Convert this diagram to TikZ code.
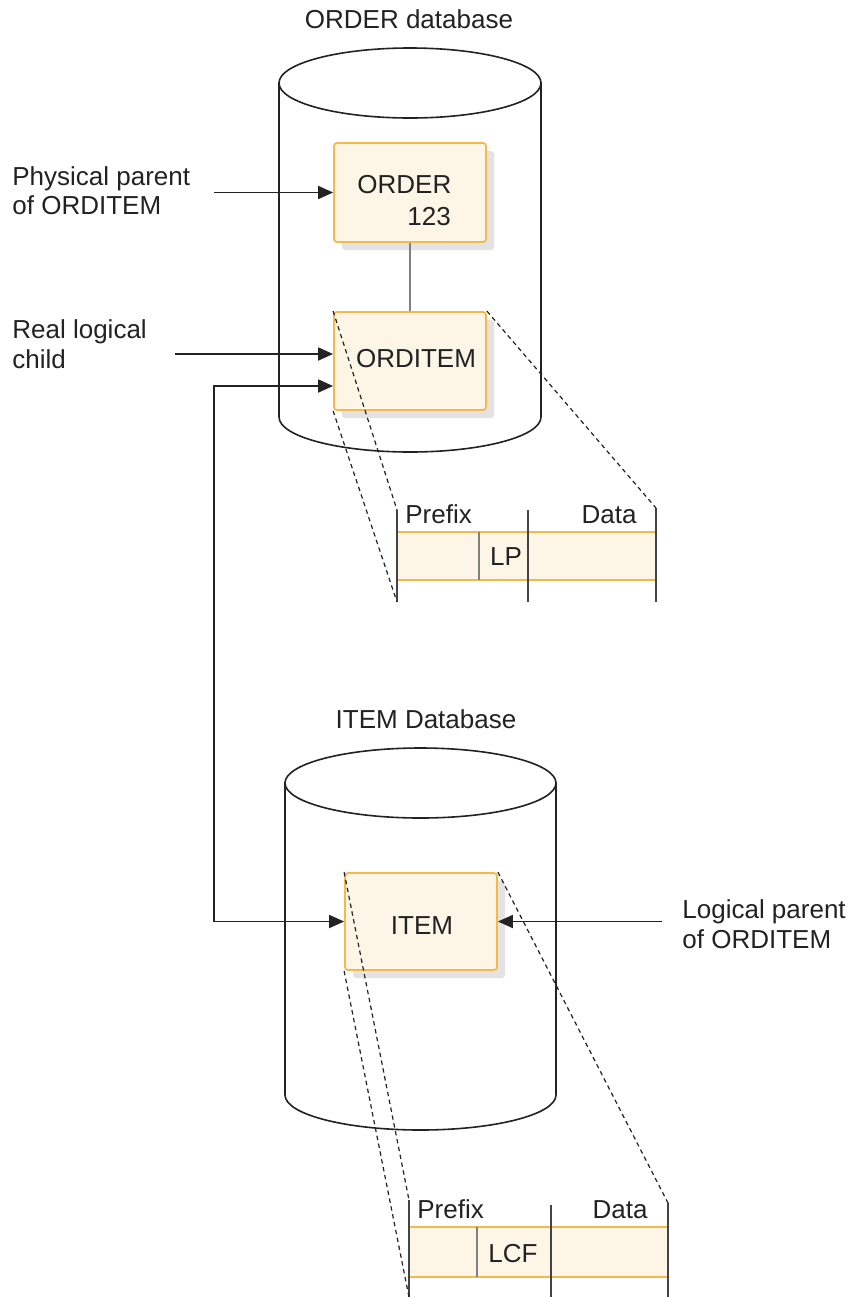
\documentclass[tikz,border=0pt]{standalone}
\usepackage{fontspec}
\setmainfont{Liberation Sans}
\usetikzlibrary{arrows.meta}
\definecolor{boxfill}{HTML}{FDF5E6}
\definecolor{boxline}{HTML}{F5B84A}
\definecolor{shadowc}{HTML}{E3E3E3}
\definecolor{ink}{HTML}{222222}
\begin{document}
\begin{tikzpicture}[x=0.5pt,y=-0.5pt,font=\fontsize{13}{15}\selectfont,
  cyl/.style={draw=ink,line width=0.8pt,fill=white},
  recbox/.style={draw=boxline,fill=boxfill,line width=0.9pt,rounded corners=1.5pt,minimum width=76pt,inner sep=0pt},
  shade/.style={fill=shadowc,rounded corners=1.5pt},
  conn/.style={draw=ink,line width=0.9pt,-{Triangle[length=7.5pt,width=6.5pt]}},
  link/.style={draw=gray,line width=1.4pt},
  zoomline/.style={draw=ink,line width=0.6pt,dash pattern=on 2.2pt off 1.8pt},
  field/.style={draw=ink!85,line width=0.8pt},
  subfield/.style={draw=gray,line width=1pt},
  band/.style={fill=boxfill},
  bandedge/.style={draw=boxline,line width=1pt},
  lbl/.style={inner sep=0pt,text=ink}]
\useasboundingbox (0,0) rectangle (853,1297);

% ---------- ORDER database cylinder ----------
\path[cyl] (279,83) -- (279,417) arc[start angle=180,end angle=0,x radius=131,y radius=35] -- (541,83) -- cycle;
\draw[cyl] (410,83) ellipse [x radius=131,y radius=35];
\node[lbl,anchor=base] (title1) at (409,28) {ORDER database};

% ---------- ITEM database cylinder ----------
\path[cyl] (285,783) -- (285,1095) arc[start angle=180,end angle=0,x radius=135.5,y radius=35] -- (556,783) -- cycle;
\draw[cyl] (420.5,783) ellipse [x radius=135.5,y radius=35];
\node[lbl,anchor=base] (title2) at (426,728) {ITEM Database};

% ---------- shadows ----------
\fill[shade] (342,151) rectangle (494,250);
\fill[shade] (342,320) rectangle (494,418);
\fill[shade] (353,881) rectangle (505,978);

% ---------- segment boxes ----------
\node[recbox,minimum height=49.5pt] (order) at (410,192.5) {};
\node[recbox,minimum height=49pt] (orditem) at (410,361) {};
\node[recbox,minimum height=48.5pt] (item) at (421,921.5) {};

\node[lbl,anchor=base west] (ordertxt) at (357,193) {ORDER};
\node[lbl,anchor=base west] (ordernum) at (407,225) {123};
\node[lbl,anchor=base] (orditemtxt) at (416,367) {ORDITEM};
\node[lbl,anchor=base] (itemtxt) at (422,934) {ITEM};

\draw[link] (order.south) -- (orditem.north);

% ---------- record 1 (ORDITEM) ----------
\coordinate (r1tl) at (397,510);
\coordinate (r1bl) at (397,602);
\coordinate (r1tr) at (656,508);
\coordinate (r1br) at (656,602);
\coordinate (r1dt) at (528,510);
\coordinate (r1db) at (528,602);
\fill[band] (397,532) rectangle (656,580);
\draw[bandedge] (397,532) -- (656,532);
\draw[bandedge] (397,580) -- (656,580);
\draw[subfield] (479,532) -- (479,580);
\draw[field] (r1tl) -- (r1bl);
\draw[field] (r1dt) -- (r1db);
\draw[field] (r1tr) -- (r1br);
\node[lbl,anchor=base west] (pf1) at (405,523) {Prefix};
\node[lbl,anchor=base east] (dt1) at (637,523) {Data};
\node[lbl,anchor=base] (lp) at (506,565) {LP};

\draw[zoomline] (orditem.north west) -- (r1tl);
\draw[zoomline] (orditem.south west) -- (r1bl);
\draw[zoomline] (orditem.north east) -- (r1tr);

% ---------- record 2 (ITEM) ----------
\coordinate (r2tl) at (409,1200);
\coordinate (r2bl) at (409,1297);
\coordinate (r2tr) at (668,1203);
\coordinate (r2br) at (668,1297);
\coordinate (r2dt) at (551,1205);
\coordinate (r2db) at (551,1297);
\fill[band] (409,1227) rectangle (668,1277);
\draw[bandedge] (409,1227) -- (668,1227);
\draw[bandedge] (409,1277) -- (668,1277);
\draw[subfield] (477,1227) -- (477,1277);
\draw[field] (r2tl) -- (r2bl);
\draw[field] (r2dt) -- (r2db);
\draw[field] (r2tr) -- (r2br);
\node[lbl,anchor=base west] (pf2) at (417,1218) {Prefix};
\node[lbl,anchor=base east] (dt2) at (648,1218) {Data};
\node[lbl,anchor=base] (lcf) at (513,1262) {LCF};

\draw[zoomline] (item.north west) -- (r2tl);
\draw[zoomline] (item.south west) -- (r2bl);
\draw[zoomline] (item.north east) -- (r2tr);

% ---------- labels and arrows ----------
\node[lbl,anchor=base west] (pp1) at (12,185) {Physical parent};
\node[lbl,anchor=base west] (pp2) at (12,214) {of ORDITEM};
\node[lbl,anchor=base west] (rl1) at (12,338) {Real logical};
\node[lbl,anchor=base west] (rl2) at (12,368) {child};
\node[lbl,anchor=base west] (lg1) at (682,918) {Logical parent};
\node[lbl,anchor=base west] (lg2) at (682,948) {of ORDITEM};

\coordinate (ppstart) at (214,192.5);
\coordinate (rlstart) at (175,354);
\coordinate (loop) at (214,386);
\coordinate (lgstart) at (662,921.5);

\draw[conn] (ppstart) -- (order.west);
\draw[conn] (rlstart) -- (rlstart -| orditem.west);
\draw[conn,{Triangle[length=7.5pt,width=6.5pt]}-{Triangle[length=7.5pt,width=6.5pt]}] (loop -| orditem.west) -- (loop) -- (loop |- item.west) -- (item.west);
\draw[conn] (lgstart) -- (item.east);
\end{tikzpicture}
\end{document}
